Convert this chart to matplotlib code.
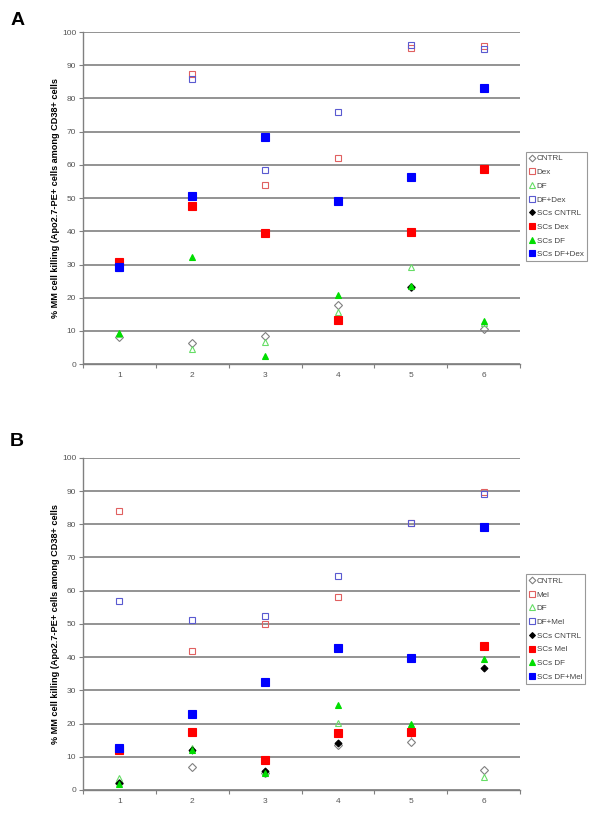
import numpy as np
import matplotlib
matplotlib.use("Agg")
import matplotlib.pyplot as plt

plt.rcParams['font.family'] = ['Liberation Sans', 'DejaVu Sans']

# ===== DADOS =====
x_labels = ["1", "2", "3", "4", "5", "6"]
nan = np.nan

# Painel A (Dex)
labels_a = ["CNTRL", "Dex", "DF", "DF+Dex", "SCs CNTRL", "SCs Dex", "SCs DF", "SCs DF+Dex"]
a_cntrl = [8.1, 6.5, 8.5, 17.7, 23.2, 10.6]
a_dex = [30.5, 87.4, 54.0, 62.0, 95.3, 95.7]
a_df = [9.0, 4.5, 6.7, 15.6, 29.4, 12.5]
a_df_dex = [29.0, 85.8, 58.5, 76.0, 96.0, 95.0]
a_sc_cntrl = [nan, nan, nan, nan, 23.2, nan]
a_sc_dex = [30.7, 47.5, 39.5, 13.4, 39.8, 58.7]
a_sc_df = [9.3, 32.4, 2.6, 20.9, 23.4, 12.9]
a_sc_df_dex = [29.4, 50.5, 68.3, 49.0, 56.5, 83.3]

# Painel B (Mel)
labels_b = ["CNTRL", "Mel", "DF", "DF+Mel", "SCs CNTRL", "SCs Mel", "SCs DF", "SCs DF+Mel"]
b_cntrl = [2.0, 7.0, 5.0, 13.5, 14.3, 6.0]
b_mel = [84.0, 41.9, 50.1, 58.2, 80.4, 89.6]
b_df = [3.5, 12.5, 5.5, 20.1, 19.5, 4.0]
b_df_mel = [57.0, 51.2, 52.3, 64.4, 80.4, 89.0]
b_sc_cntrl = [2.2, 12.0, 5.7, 14.0, 17.0, 36.6]
b_sc_mel = [11.9, 17.5, 9.1, 17.0, 17.3, 43.3]
b_sc_df = [1.7, 12.0, 5.0, 25.6, 19.9, 39.3]
b_sc_df_mel = [12.6, 23.0, 32.4, 42.7, 39.7, 79.1]

# estilos por serie: (marcador, cor, preenchido, tamanho)
estilos = [
    ("D", "#808080", False, 4.0),
    ("s", "#e06060", False, 4.5),
    ("^", "#66dd66", False, 4.5),
    ("s", "#5a5ad0", False, 4.5),
    ("D", "black", True, 3.5),
    ("s", "#ff0000", True, 5.5),
    ("^", "#00dd00", True, 5.0),
    ("s", "#0000ff", True, 5.5),
]

YLABEL = "% MM cell killing (Apo2.7-PE+ cells among CD38+ cells"


def desenhar(ax, series, nomes, leg_anchor):
    xs = np.arange(1, len(x_labels) + 1)
    for vals, nome, (m, c, cheio, ms) in zip(series, nomes, estilos):
        ax.plot(xs, vals, linestyle="none", marker=m, markersize=ms,
                markerfacecolor=c if cheio else "none", markeredgecolor=c,
                markeredgewidth=0.8, label=nome)
    ax.set_xlim(0.5, 6.5)
    ax.set_ylim(0, 100)
    ax.set_yticks(np.arange(0, 101, 10))
    ax.set_xticks(np.arange(0.5, 6.6, 1.0))
    ax.set_xticklabels([])
    ax.set_xticks(xs, minor=True)
    ax.set_xticklabels(x_labels, minor=True)
    ax.tick_params(axis="x", which="minor", length=0, pad=6, labelsize=6, labelcolor="#555555")
    ax.tick_params(axis="x", which="major", length=3, color="#808080")
    ax.tick_params(axis="y", length=3, color="#808080", labelsize=6, labelcolor="#555555", pad=2)
    ax.grid(axis="y", color="#8a8a8a", linewidth=1.3)
    ax.set_axisbelow(True)
    for s in ["top", "right"]:
        ax.spines[s].set_visible(False)
    for s in ["left", "bottom"]:
        ax.spines[s].set_color("#808080")
        ax.spines[s].set_linewidth(1.0)
    ax.set_ylabel(YLABEL, fontsize=6.6, fontweight="bold", labelpad=1)
    leg = ax.legend(loc="upper left", bbox_to_anchor=leg_anchor, fontsize=5.8,
                    frameon=True, fancybox=False, handlelength=0.6,
                    handletextpad=0.3, borderpad=0.4, labelspacing=0.75,
                    borderaxespad=0, markerscale=0.85)
    leg.get_frame().set_edgecolor("#808080")
    leg.get_frame().set_linewidth(0.8)
    for t in leg.get_texts():
        t.set_color("#444444")


fig = plt.figure(figsize=(6.02, 8.22), dpi=100)
ax_a = fig.add_axes([0.138, 0.557, 0.726, 0.404])
ax_b = fig.add_axes([0.138, 0.039, 0.726, 0.404])

desenhar(ax_a, [a_cntrl, a_dex, a_df, a_df_dex, a_sc_cntrl, a_sc_dex, a_sc_df, a_sc_df_dex],
         labels_a, (1.014, 0.64))
desenhar(ax_b, [b_cntrl, b_mel, b_df, b_df_mel, b_sc_cntrl, b_sc_mel, b_sc_df, b_sc_df_mel],
         labels_b, (1.014, 0.65))

fig.text(0.017, 0.975, "A", fontsize=14, fontweight="bold", va="center")
fig.text(0.017, 0.463, "B", fontsize=14, fontweight="bold", va="center")

fig.savefig("out.png", dpi=100)
